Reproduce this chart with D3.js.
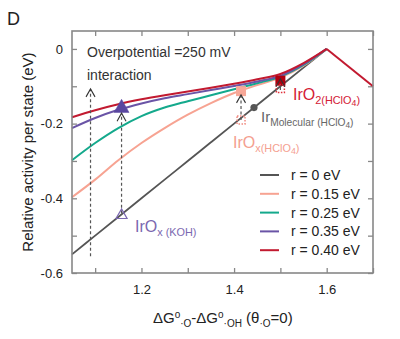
<!DOCTYPE html>
<html>
<head>
<meta charset="utf-8">
<script src="https://cdn.jsdelivr.net/npm/d3@7"></script>
<style>
  body { margin: 0; background: #fff; }
  text { font-family: "Liberation Sans", Arial, sans-serif; }
</style>
</head>
<body>
<div id="my_chart"></div>
<script>
// x values shared by the curves
var xVals = [1.05, 1.1, 1.15, 1.2, 1.25, 1.3, 1.35, 1.4, 1.45, 1.5, 1.55, 1.6];

var r000 = [-0.55, -0.5, -0.45, -0.4, -0.35, -0.3, -0.25, -0.2, -0.15, -0.1, -0.05, 0];
var r015 = [-0.397, -0.35, -0.298, -0.252, -0.212, -0.176, -0.145, -0.118, -0.097, -0.077, -0.045, 0];
var r025 = [-0.298, -0.252, -0.212, -0.18, -0.157, -0.14, -0.124, -0.108, -0.092, -0.074, -0.043, 0];
var r035 = [-0.212, -0.185, -0.163, -0.146, -0.132, -0.121, -0.11, -0.099, -0.087, -0.072, -0.041, 0];
var r040 = [-0.183, -0.164, -0.148, -0.135, -0.124, -0.114, -0.104, -0.093, -0.081, -0.067, -0.038, 0];
// red line continues past the top
var redTailX = [1.6, 1.7];
var redTailY = [0, -0.1];

var seriesNames = ["r = 0 eV", "r = 0.15 eV", "r = 0.25 eV", "r = 0.35 eV", "r = 0.40 eV"];
var seriesColors = ["#555555", "#f7a392", "#14a98c", "#6a54a6", "#c21a30"];

var xTicks = [1.1, 1.2, 1.3, 1.4, 1.5, 1.6, 1.7];
var xTickLabels = [1.2, 1.4, 1.6];
var yTicks = [-0.6, -0.5, -0.4, -0.3, -0.2, -0.1, 0];
var yTickLabels = [-0.6, -0.4, -0.2, 0];

// experimental markers
var markerX = [1.157, 1.157, 1.415, 1.415, 1.5, 1.5, 1.443];
var markerY = [-0.155, -0.443, -0.113, -0.19, -0.085, -0.106, -0.157];
var markerType = ["triFill", "triOpen", "sqFill", "sqDot", "sqFill", "sqDot", "circle"];
var markerColor = ["#5a47a0", "#7b68b0", "#f7a898", "#f08a80", "#b0000f", "#e0303a", "#555555"];

// dashed arrows: x, from, to
var arrowX = [1.09, 1.157, 1.415, 1.5];
var arrowFrom = [-0.555, -0.44, -0.19, -0.11];
var arrowTo = [-0.107, -0.172, -0.123, -0.08];

var margin = {left: 72, top: 31, right: 27, bottom: 66};
var width = 400, height = 339;
var pw = width - margin.left - margin.right;
var ph = height - margin.top - margin.bottom;

var svg = d3.select("#my_chart").append("svg")
    .attr("width", width)
    .attr("height", height);

var g = svg.append("g")
    .attr("transform", "translate(" + margin.left + "," + margin.top + ")");

var xscale = d3.scaleLinear().domain([1.05, 1.7]).range([0, pw]);
var yscale = d3.scaleLinear().domain([-0.6, 0.048]).range([ph, 0]);

// ticks on all four sides, pointing in
var frameColor = "#888";
g.append("g").attr("transform", "translate(0," + ph + ")")
    .call(d3.axisBottom(xscale).tickValues(xTicks).tickSizeInner(-5).tickSizeOuter(0).tickFormat(""));
g.append("g")
    .call(d3.axisTop(xscale).tickValues(xTicks).tickSizeInner(-5).tickSizeOuter(0).tickFormat(""));
g.append("g")
    .call(d3.axisLeft(yscale).tickValues(yTicks).tickSizeInner(-5).tickSizeOuter(0).tickFormat(""));
g.append("g").attr("transform", "translate(" + pw + ",0)")
    .call(d3.axisRight(yscale).tickValues(yTicks).tickSizeInner(-5).tickSizeOuter(0).tickFormat(""));
g.selectAll(".domain").remove();
g.selectAll(".tick line").attr("stroke", frameColor).attr("stroke-width", 1.3);

// tick labels
g.append("g").attr("transform", "translate(0," + ph + ")")
    .call(d3.axisBottom(xscale).tickValues(xTickLabels).tickSize(0).tickPadding(12).tickFormat(d3.format(".1f")))
    .call(function(a) { a.select(".domain").remove(); })
    .selectAll("text").style("font-size", "13px").attr("fill", "#222");
g.append("g")
    .call(d3.axisLeft(yscale).tickValues(yTickLabels).tickSize(0).tickPadding(9)
        .tickFormat(function(d) { return d == 0 ? "0" : "-" + Math.abs(d).toFixed(1); }))
    .call(function(a) { a.select(".domain").remove(); })
    .selectAll("text").style("font-size", "13px").attr("fill", "#222");

// curves
var allSeries = [r000, r015, r025, r035, r040];
var line = d3.line()
    .x(function(d) { return xscale(d[0]); })
    .y(function(d) { return yscale(d[1]); })
    .curve(d3.curveCatmullRom.alpha(0.5));

allSeries.forEach(function(s, i) {
    var pts = xVals.map(function(x, j) { return [x, s[j]]; });
    g.append("path")
        .datum(pts)
        .attr("d", line)
        .attr("fill", "none")
        .attr("stroke", seriesColors[i])
        .attr("stroke-width", i == 0 ? 1.8 : 2);
});
g.append("path")
    .datum(redTailX.map(function(x, j) { return [x, redTailY[j]]; }))
    .attr("d", d3.line().x(function(d) { return xscale(d[0]); }).y(function(d) { return yscale(d[1]); }))
    .attr("fill", "none")
    .attr("stroke", seriesColors[4])
    .attr("stroke-width", 2);

// dashed arrows
arrowX.forEach(function(x, i) {
    var px = xscale(x);
    g.append("line")
        .attr("x1", px).attr("x2", px)
        .attr("y1", yscale(arrowFrom[i])).attr("y2", yscale(arrowTo[i]))
        .attr("stroke", "#555").attr("stroke-width", 1.2)
        .attr("stroke-dasharray", "3,2.5");
});

// markers
markerX.forEach(function(x, i) {
    var px = xscale(x), py = yscale(markerY[i]), t = markerType[i], c = markerColor[i];
    if (t == "triFill" || t == "triOpen") {
        var s = t == "triFill" ? 7.5 : 5.5;
        g.append("path")
            .attr("d", "M" + px + "," + (py - s) + "L" + (px + s) + "," + (py + s * 0.75) + "L" + (px - s) + "," + (py + s * 0.75) + "Z")
            .attr("fill", t == "triFill" ? c : "none")
            .attr("stroke", c).attr("stroke-width", t == "triFill" ? 0.5 : 1.2);
    } else if (t == "sqFill") {
        g.append("rect").attr("x", px - 5).attr("y", py - 5).attr("width", 10).attr("height", 10)
            .attr("fill", c);
    } else if (t == "sqDot") {
        g.append("rect").attr("x", px - 4).attr("y", py - 4).attr("width", 8).attr("height", 8)
            .attr("fill", "none").attr("stroke", c).attr("stroke-width", 1.5)
            .attr("stroke-dasharray", "1.5,1.5");
    } else {
        g.append("circle").attr("cx", px).attr("cy", py).attr("r", 3.6).attr("fill", c);
    }
});

// open arrow heads drawn on top of the markers
arrowX.forEach(function(x, i) {
    var px = xscale(x), py = yscale(arrowTo[i]);
    g.append("path")
        .attr("d", "M" + (px - 4.5) + "," + (py + 8) + "L" + px + "," + py + "L" + (px + 4.5) + "," + (py + 8))
        .attr("fill", "none")
        .attr("stroke", "#333").attr("stroke-width", 1.1);
});

// frame
g.append("rect")
    .attr("width", pw).attr("height", ph)
    .attr("fill", "none").attr("stroke", frameColor).attr("stroke-width", 1.6);

// legend
var legend = g.append("g").attr("transform", "translate(" + (260 - margin.left) + "," + (175 - margin.top) + ")");
seriesNames.forEach(function(n, i) {
    legend.append("line")
        .attr("x1", 0).attr("x2", 19).attr("y1", i * 18.8).attr("y2", i * 18.8)
        .attr("stroke", seriesColors[i]).attr("stroke-width", 2);
    legend.append("text")
        .attr("x", 31).attr("y", i * 18.8 + 5)
        .style("font-size", "14px").attr("fill", "#222")
        .text(n);
});

// annotations (absolute coords)
svg.append("text").attr("x", 7).attr("y", 25)
    .style("font-size", "18px").attr("fill", "#222").text("D");
svg.append("text").attr("x", 87).attr("y", 57)
    .style("font-size", "14px").attr("fill", "#333").text("Overpotential =250 mV");
svg.append("text").attr("x", 87).attr("y", 80)
    .style("font-size", "14px").attr("fill", "#333").text("interaction");

function subLabel(x, y, main, sub, four, tail, color, sz) {
    var t = svg.append("text").attr("x", x).attr("y", y).attr("fill", color)
        .style("font-size", sz + "px");
    t.append("tspan").text(main);
    t.append("tspan").attr("dy", 4).style("font-size", (sz * 0.68) + "px").text(sub);
    if (four) {
        t.append("tspan").attr("dy", 2).style("font-size", (sz * 0.55) + "px").text(four);
        t.append("tspan").attr("dy", -2).style("font-size", (sz * 0.68) + "px").text(tail);
    }
    return t;
}
subLabel(293, 100, "IrO", "2(HClO", "4", ")", "#d42035", 16);
subLabel(261, 122, "Ir", "Molecular (HClO", "4", ")", "#666666", 15);
subLabel(233, 148, "IrO", "x(HClO", "4", ")", "#f4a090", 16);
subLabel(135, 232, "IrO", "x (KOH)", null, null, "#7b68b0", 16);

// axis titles
svg.append("text")
    .attr("transform", "translate(33,152) rotate(-90)")
    .attr("text-anchor", "middle")
    .style("font-size", "15px").attr("fill", "#222")
    .text("Relative activity per state (eV)");

var xt = svg.append("text").attr("x", 153).attr("y", 323)
    .style("font-size", "15px").attr("fill", "#222");
xt.append("tspan").text("ΔG");
xt.append("tspan").attr("dy", -5).style("font-size", "10px").text("o");
xt.append("tspan").attr("dy", 9).style("font-size", "10px").text("·O");
xt.append("tspan").attr("dy", -4).text("-ΔG");
xt.append("tspan").attr("dy", -5).style("font-size", "10px").text("o");
xt.append("tspan").attr("dy", 9).style("font-size", "10px").text("·OH");
xt.append("tspan").attr("dy", -4).text(" (θ");
xt.append("tspan").attr("dy", 4).style("font-size", "10px").text("·O");
xt.append("tspan").attr("dy", -4).text("=0)");
</script>
</body>
</html>
